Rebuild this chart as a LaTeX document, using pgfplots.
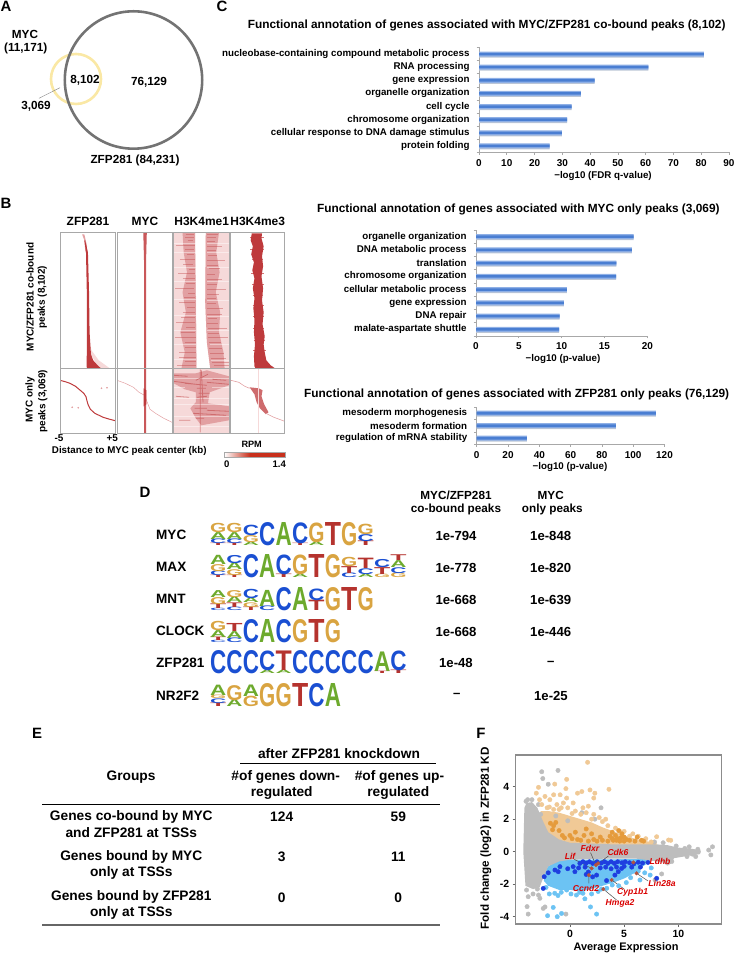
\documentclass[border=0pt]{standalone}
\usepackage{fontspec}
\usepackage{graphicx}
\usepackage{pgfplots}
\pgfplotsset{compat=1.18}
\setmainfont{Liberation Sans}
\definecolor{axgray}{HTML}{A8A8A8}
\definecolor{hm}{HTML}{BE3A3C}
\definecolor{hmline}{HTML}{C9585A}
\definecolor{hmmid}{HTML}{E2A0A2}
\definecolor{hmpale}{HTML}{F6D9D9}
\definecolor{colC}{HTML}{1A4FD2}
\definecolor{colG}{HTML}{D9A441}
\definecolor{colA}{HTML}{6DAA2D}
\definecolor{colT}{HTML}{B5332E}
\definecolor{ptgray}{HTML}{BDBDBD}
\definecolor{ptlor}{HTML}{F0C996}
\definecolor{ptor}{HTML}{E59B3C}
\definecolor{ptlbl}{HTML}{6CC3F3}
\definecolor{ptbl}{HTML}{1E3FE0}
\definecolor{ptred}{HTML}{B4533E}
\definecolor{bartop}{HTML}{8FB0E6}
\definecolor{barmid}{HTML}{4A7ED2}
\definecolor{barbot}{HTML}{BCC6D6}
\definecolor{rpmred}{HTML}{C8301C}
\definecolor{vennyel}{HTML}{FAE8A5}
\newcommand\fs[1]{\fontsize{#1}{#1}\selectfont\bfseries}
% one stacked column per entry, letters listed bottom to top
\newcommand\logo[2]{%
  \foreach \col [count=\i from 0] in {#2}{%
    \pgfmathsetmacro\xl{210+16.4*\i}%
    \pgfmathsetmacro\yy{954-#1}\xdef\yc{\yy}%
    \foreach \lt/\fr in \col {%
      \pgfmathsetmacro\hh{23*\fr}%
      \node[inner sep=0,outer sep=0,anchor=south west] at (\xl bp,\yc bp)
        {\resizebox{16.2bp}{\hh bp}{\raisebox{0pt}[\height][0pt]{\fs{20}\textcolor{col\lt}{\lt}}}};
      \pgfmathsetmacro\yn{\yc+\hh}\xdef\yc{\yn}%
    }%
  }%
}
% soft shadow, pale edge and darker core of each bar
\newcommand\gobars[1]{%
  \addplot[xbar,bar shift=-.7bp,bar width=5.5bp,draw=none,fill=barbot] coordinates {#1};
  \addplot[xbar,bar shift=0pt,bar width=5bp,draw=none,fill=bartop] coordinates {#1};
  \addplot[xbar,bar shift=0pt,bar width=2.6bp,draw=none,fill=barmid] coordinates {#1};
}
\pgfplotsset{
  gobar/.style={
    scale only axis, axis lines=left, axis line style={-,axgray,line width=.8pt},
    tick style={axgray,line width=.7pt}, tick align=outside, major tick length=2.5bp,
    ymin=.5, ymax=8.5, ytick={.5,1.5,...,8.5}, yticklabels={},
    extra y ticks={1,...,8}, extra y tick style={major tick length=0pt},
    yticklabel style={xshift=-6bp,font=\fs{9.8}},
    xticklabel style={font=\fs{10},yshift=-1bp},
    /pgf/number format/assume math mode=true, clip=false,
  },
  heat/.style={
    scale only axis, width=#1, height=201bp, xmin=-5, xmax=5, ymin=0, ymax=201,
    y dir=reverse, xtick=\empty, ytick=\empty, axis on top, unbounded coords=jump,
    axis line style={axgray,line width=.9pt},
  },
}
\begin{document}
\begin{tikzpicture}
\useasboundingbox (0,0) rectangle (734bp,954bp);

% C, co-bound peaks
\begin{axis}[gobar, at={(479bp,801.5bp)}, anchor=south west, width=250bp, height=105bp,
  xmin=0, xmax=90, xtick={0,10,...,90},
  extra y tick labels={protein folding,cellular response to DNA damage stimulus,chromosome organization,cell cycle,organelle organization,gene expression,RNA processing,nucleobase-containing compound metabolic process}]
\gobars{(25.4,1) (29.8,2) (31.7,3) (33.3,4) (36.7,5) (41.6,6) (61,7) (81,8)}
\end{axis}

% C, MYC only peaks
\begin{axis}[gobar, at={(476bp,618bp)}, anchor=south west, width=171.3bp, height=106bp,
  xmin=0, xmax=20, xtick={0,5,...,20},
  extra y tick labels={malate-aspartate shuttle,DNA repair,gene expression,cellular metabolic process,chromosome organization,translation,DNA metabolic process,organelle organization}]
\gobars{(9.7,1) (9.75,2) (10.25,3) (10.6,4) (16.35,5) (16.4,6) (18.2,7) (18.4,8)}
\end{axis}

% C, ZFP281 only peaks
\begin{axis}[gobar, at={(476.7bp,509.5bp)}, anchor=south west, width=187.8bp, height=37.5bp,
  xmin=0, xmax=120, xtick={0,20,...,120}, ymax=3.5, ytick={.5,1.5,2.5,3.5},
  extra y ticks={1,2,3},
  extra y tick labels={regulation of mRNA stability,mesoderm formation,mesoderm morphogenesis}]
\gobars{(32,1) (89,2) (114.5,3)}
\end{axis}

% B, ZFP281
\begin{axis}[heat=55.3bp, at={(60bp,520.7bp)}, anchor=south west]
\addplot[fill=hmpale,draw=none] coordinates {(.4,112)(.7,118)(2,128)(4,136)(2,136)(.6,122)};
\addplot[fill=hmmid,draw=none] coordinates {(-1,2)(-.6,8)(-.4,20)(-.1,14)(-.6,2)};
\addplot[fill=hm,draw=none] coordinates {(-.6,8)(-.3,20)(-.15,60)(-.15,100)(-.15,120)(-.2,134)(-.1,136)(2.4,136)(1.8,133)(1.0,128)(.6,122)(.35,100)(.25,60)(.05,20)(-.45,8)};
\addplot[hm,line width=1bp] coordinates {(-5,148)(-4,149.5)(-3.2,151)(-2.2,154)(-1.4,157.7)(-.7,161)(-.3,164.4)(-.1,169)(.1,172.7)(.5,177)(1.3,181)(2.8,185)(4,187)(5,188.4)};
\addplot[only marks,mark=*,mark size=.6bp,hmmid] coordinates {(2.5,156)(3.5,155.5)(-2.8,175)(-1.7,175.5)};
\end{axis}
% B, MYC
\begin{axis}[heat=55bp, at={(117bp,520.7bp)}, anchor=south west]
\addplot[hmmid,line width=.5bp] coordinates {(-5,148)(-3.5,151)(-2,155)(-1,160)(0,163)(.5,170)(1,177)(2,181)(3.5,186)(5,190)};
\addplot[fill=hmline,draw=none] coordinates {(-.22,0)(.42,0)(.28,30)(.28,136)(.3,201)(-.08,201)(-.08,136)(-.08,30)};
\addplot[fill=hm,draw=none] coordinates {(-.14,156)(.34,158)(.34,172)(-.14,174)};
\end{axis}
% B, H3K4me1
\begin{axis}[heat=55.3bp, at={(173.7bp,520.7bp)}, anchor=south west]
\addplot[fill=hmpale,draw=none] coordinates {(-5,0)(-1.15,0)(-.95,70)(-.85,136)(-5,136)};
\addplot[fill=hmpale,draw=none] coordinates {(.8,0)(.7,70)(1,110)(1.6,136)(5,136)(5,0)};
\addplot[fill=hmmid,draw=none] coordinates {(-3.4,0)(-1.15,0)(-1,70)(-.9,136)(-3.6,136)(-3,120)(-3.8,100)(-2.8,80)(-3.4,60)(-2.6,40)(-3.2,20)};
\addplot[fill=hmmid,draw=none] coordinates {(.8,0)(3.2,0)(2.7,20)(3.3,40)(2.6,60)(3.4,80)(3.2,100)(4,120)(4.2,136)(1.6,136)(1,110)(.7,70)};
\addplot[fill=hmpale,draw=none] coordinates {(-5,136)(5,136)(5,201)(-5,201)};
\addplot[fill=hmmid,draw=none] coordinates {(-5,141)(-3,141)(-1,141)(1,138)(5,144)(5,153)(1.5,160)(1.2,171)(5,174)(5,188)(2,191)(0,193)(-1,186)(-2,176)(-1,170)(-1,160)(-3,157)(-5,151)};
% streaks
\addplot[hm,line width=.6bp,opacity=.38,unbounded coords=jump] coordinates {
 (-2.8,2)(-1.3,2) (0,nan) (1,2)(3,2) (0,nan) (-3,5)(-1.4,5) (0,nan) (1,5)(2.7,5) (0,nan)
 (-2.5,8)(-1.5,8) (0,nan) (1,9)(2.4,9) (0,nan) (-4.5,13)(-1.2,13) (0,nan) (1,14)(3.8,14) (0,nan)
 (-2.9,17)(-1.3,17) (0,nan) (1.1,18)(2.6,18) (0,nan) (-2.6,22)(-1.4,22) (0,nan) (1.2,23)(2.8,23) (0,nan)
 (-3.9,27)(-1.2,27) (0,nan) (1,28)(4.3,28) (0,nan) (-3.3,32)(-1.5,32) (0,nan) (1,33)(3,33) (0,nan)
 (-2.2,37)(-1.1,37) (0,nan) (1.3,36)(3.4,36) (0,nan) (-4.2,41)(-1.1,41) (0,nan) (1,42)(2.4,42) (0,nan)
 (-3.4,46)(-1.2,46) (0,nan) (1,47)(3.8,47) (0,nan) (-2.8,51)(-1.2,51) (0,nan) (1,52)(2.8,52) (0,nan)
 (-4.7,56)(-1.4,56) (0,nan) (1.1,57)(4.5,57) (0,nan) (-2.4,61)(-1.1,61) (0,nan) (1.1,62)(3.2,62) (0,nan)
 (-3.1,65)(-1.2,65) (0,nan) (1,66)(2.7,66) (0,nan) (-4,70)(-1.2,70) (0,nan) (1,71)(2.6,71) (0,nan)
 (-2.6,75)(-1.2,75) (0,nan) (1,76)(4,76) (0,nan) (-3.4,80)(-1.2,80) (0,nan) (1.1,82)(3.8,82) (0,nan)
 (-3.6,85)(-1.1,85) (0,nan) (1.2,86)(2.9,86) (0,nan) (-4.6,90)(-1.1,90) (0,nan) (1,91)(3,91) (0,nan)
 (-2.8,95)(-1.1,95) (0,nan) (1.2,96)(4.6,96) (0,nan) (-3.7,100)(-1.1,100) (0,nan) (1.2,101)(3.2,101) (0,nan)
 (-4.8,105)(-1,105) (0,nan) (1.2,105)(4.8,105) (0,nan) (-3,110)(-1,110) (0,nan) (1.4,110)(3.6,110) (0,nan)
 (-3,115)(-1,115) (0,nan) (1.4,116)(3.8,116) (0,nan) (-4,120)(-1,120) (0,nan) (1.5,121)(4.1,121) (0,nan)
 (-4,125)(-1,125) (0,nan) (1.7,126)(4.4,126) (0,nan) (-3,129)(-.9,129) (0,nan) (2,130)(5,130) (0,nan)
 (-4.4,133)(-.9,133) (0,nan) (2.2,133)(5,133)};
\addplot[white,line width=.5bp,opacity=.45,unbounded coords=jump] coordinates {
 (-5,11)(-1,11) (0,nan) (1,11)(5,11) (0,nan) (-5,19.5)(-1,19.5) (0,nan) (1,20)(5,20) (0,nan)
 (-5,35)(-1,35) (0,nan) (1,35)(5,35) (0,nan) (-5,49)(-1,49) (0,nan) (1,49)(5,49) (0,nan)
 (-5,67)(-1,67) (0,nan) (1,68)(5,68) (0,nan) (-5,83)(-1,83) (0,nan) (1,84)(5,84) (0,nan)
 (-5,97.5)(-1,97.5) (0,nan) (1,98)(5,98) (0,nan) (-5,112)(-1,112) (0,nan) (1.5,112)(5,112) (0,nan)
 (-5,127)(-1,127) (0,nan) (1.8,127.5)(5,127.5) (0,nan) (-5,146)(5,146) (0,nan) (-5,155)(-3,155) (0,nan)
 (2,155)(5,155) (0,nan) (-5,166)(5,166) (0,nan) (-5,172)(5,172) (0,nan) (-5,184)(5,184) (0,nan) (-5,194)(5,194)};
\addplot[hm,line width=.8bp,opacity=.5,unbounded coords=jump] coordinates {
 (-5,143)(-2.5,144) (0,nan) (-5,149)(-1,152) (0,nan) (-3,151)(1,153) (0,nan) (-1,148)(1.2,142) (0,nan)
 (-.8,156)(.8,156) (0,nan) (2,147)(4.5,148) (0,nan) (1,150)(5,152) (0,nan) (-.5,161)(1.5,161) (0,nan)
 (-.8,165)(1,164) (0,nan) (-1.2,176)(1,176) (0,nan) (1,178)(5,179) (0,nan) (-1.5,181)(4.5,183) (0,nan)
 (-1,186)(.5,186) (0,nan) (-.2,137)(-.2,200) (0,nan) (0,138)(.3,170) (0,nan) (-4,188)(-2,188) (0,nan) (-4.6,164)(-2.2,165)};
\end{axis}
% B, H3K4me3
\begin{axis}[heat=54bp, at={(230.7bp,520.7bp)}, anchor=south west]
\addplot[fill=hm,draw=none] coordinates {(-1.1,1)(-1.3,8)(-.9,14)(-1.2,22)(-.7,30)(-1,38)(-.6,46)(-.9,56)(-.6,66)(-.8,76)(-.6,88)(-.7,100)(-.5,112)(-.7,124)(-.6,134)(-.4,136)(3.2,136)(2.4,133)(1.6,128)(1.3,120)(1.1,112)(1.3,104)(.9,92)(1.1,80)(.8,68)(1,56)(.7,44)(1,34)(.8,24)(1.1,14)(.7,6)(.8,1)};
\addplot[hm,line width=.3bp,opacity=.7,unbounded coords=jump] coordinates {
 (-1.45,5)(1.15,5) (0,nan) (-1.35,17)(1.25,17) (0,nan) (-1.1,27)(1,27) (0,nan) (-1.15,41)(1.1,41) (0,nan) (-1.05,52)(1.15,52) (0,nan)
 (-.95,63)(1,63) (0,nan) (-.95,73)(1.2,73) (0,nan) (-.85,84)(1.2,84) (0,nan) (-.9,96)(1.15,96) (0,nan) (-.75,108)(1.35,108) (0,nan) (-.85,118)(1.45,118)};
\addplot[hmmid,line width=.6bp] coordinates {(-5,148)(-3.5,150)(-2.4,154)(-1.5,156)};
\addplot[fill=hm,draw=none,opacity=.75] coordinates {(-1.5,155)(.2,156)(.9,158)(.7,164)(1.2,172)(2,180)(1.5,182)(.4,176)(-.2,170)(-.6,162)};
\addplot[hmmid,line width=.6bp] coordinates {(1.5,181)(3,185)(5,189)};
\addplot[hmpale,line width=.5bp] coordinates {(.1,136)(.1,201)};
\end{axis}

% F
\begin{axis}[scale only axis, at={(515.7bp,30bp)}, anchor=south west, width=206bp, height=169bp,
  xmin=-5, xmax=14, ymin=-4.45, ymax=5.95, xtick={0,5,10}, ytick={-4,-2,...,4},
  tick style={black!60,line width=.7pt}, tick align=outside, major tick length=3bp,
  axis line style={black!45,line width=1.1pt}, ticklabel style={font=\fs{10.5}},
  /pgf/number format/assume math mode=true,
  xtick pos=bottom, ytick pos=left]
\addplot[fill=ptlor,draw=none] coordinates {(-2.7,2.5)(-2,2.5)(-1,2.4)(0,2.2)(1,2)(2,1.8)(3,1.5)(4,1.25)(5,1)(6,.8)(7,.65)(8,.55)(8,.3)(-2.7,.3)};
\addplot[fill=ptlbl,draw=none] coordinates {(-2.3,-1.2)(-2,-.9)(-1,-.5)(7,-.45)(7.2,-.7)(6.5,-1)(6,-1.3)(5,-1.65)(4,-1.9)(3,-2.1)(2,-2.3)(1,-2.45)(0,-2.35)(-1,-2.35)(-2,-2.1)(-2.4,-1.8)};
\addplot[fill=ptgray,draw=none] coordinates {(-4.2,2.7)(-4,3.0)(-3.5,3.05)(-3,2.7)(-2.5,1.9)(-2,1.2)(-1,.75)(0,.55)(2,.5)(4,.45)(6,.45)(8,.45)(9,.4)(10,.25)(11,.2)(12,.1)(12,-.15)(10.5,-.3)(9.6,-.4)(9.3,-.75)(8,-.6)(7,-.5)(6,-.42)(4,-.42)(2,-.45)(0,-.5)(-1,-.6)(-2,-.9)(-2.4,-1.5)(-2.8,-2.2)(-3.4,-2.3)(-4.1,-2.1)(-4.3,0)};
% gray, sparse points
\addplot[only marks,mark=*,mark size=2.2bp,ptgray] coordinates {
 (-2.6,4.92)(-1.1,5)(-2.5,4.5)(-2,4.15)(2.87,2.7)(-3.9,3.2)(-3.5,3.2)(-4.05,3.1)(12.8,.1)(13.15,.3)(13,-.2)
 (11.85,0)(11.8,.15)(11.3,-.15)(10.6,.2)(10.2,-.15)(11,.3)(11.6,-.3)(10.8,-.3)(9.8,.35)(9.4,-.6)(9,-.7)
 (8.6,.55)(7.8,.6)(-4,-2.36)(-3.85,-2.77)(-3.95,-3.38)(-3.85,-3.84)(-3,-2.3)(-3.5,-2.1)
 (-2.46,-3.49)(-.37,-3.84)(-2.9,-2.67)(-2.77,-2.87)(8.46,-1.37)(7.85,-1.74)(-3.4,-2.6)(-2.3,-3.4)
 (1.1,2.4)(-1.3,2.2)(-.2,1.9)(2.3,2.0)(-2.9,2.9)(-2.7,2.3)};
% light orange, sparse points
\addplot[only marks,mark=*,mark size=2.2bp,ptlor] coordinates {
 (1.63,5.5)(-3.1,3.6)(-2.9,3.96)(-1.4,4.16)(-.3,4.45)(-.37,3.88)(-.3,3.3)(3.6,3.84)(1.85,3.8)(1.1,3.7)(.7,3.6)
 (2.3,3.6)(2.2,3.3)(-1.5,3.5)(-.9,3.5)(-2.3,3.4)(-2.8,3.2)(-1.85,3.2)(.3,3)(-1.2,2.9)(-.6,3)(-2.6,2.9)(-2.1,2.7)
 (1.2,2.7)(1.7,2.8)(-1.5,2.6)(-.8,2.7)(-.2,2.7)(.5,2.5)(1.5,2.4)(1,2.3)(2.2,2.3)(2.7,2.1)(-1.9,2.75)(-1,2.6)
 (.2,2.35)(3,1.85)(3.5,1.6)(4.2,1.45)(5,1.25)(5.8,1.1)(6.3,.95)(8,.92)(9.1,.72)(9.3,.7)(7,.8)(3.3,2)(2,2)(4.6,1.25)(5.5,.95)(6.8,.7)(7.5,.6)};
% orange
\addplot[only marks,mark=*,mark size=2.2bp,ptor] coordinates {
 (-1.8,1.75)(-1.5,1.6)(-1.6,1.35)(-1.3,1.8)(-.7,1)(-.5,.85)(-1,1.3)(0,1)(.2,.8)(.5,1.2)(.7,.75)(1,.7)(1.3,1)
 (1.5,1.4)(1.7,.65)(2,1.1)(2.2,.75)(2.5,.65)(2.8,.9)(3,.7)(3.5,.65)(3.7,.95)(3.9,1.2)(4,.7)(4.2,1)(4.4,.8)
 (4.5,1.3)(4.6,.65)(4.8,1.1)(5,.9)(5,.65)(5.2,.75)(5.5,.7)(6,.65)(6.2,.9)(6.6,.7)(6.8,.65)(3.9,.8)(4.3,.7)(4.7,.85)};
% light blue, sparse points
\addplot[only marks,mark=*,mark size=2.2bp,ptlbl] coordinates {
 (-2.06,-3.94)(-1.54,-3.43)(-1.17,-4)(-.77,-3.8)(1.9,-3.4)(2.46,-3.84)(1.38,-2.9)(-1.4,-2.56)(-.3,-2.36)
 (.6,-2.67)(1.2,-2.56)(-1.9,-2.6)(-1.1,-2.7)(.1,-2.6)(2,-2.6)(2.6,-2.45)(3.4,-2.25)(4.5,-2.1)
 (6.46,-1.74)(7.4,-1.44)(5.7,-1.23)(7.5,-1)(6.9,-1.3)(5.2,-1.9)(-2.2,-2.2)(-.8,-2.5)(.9,-2.5)(2.9,-2.3)(3.9,-2.05)(5.6,-1.6)(6.3,-1.2)};
% blue
\addplot[only marks,mark=*,mark size=2.2bp,ptbl] coordinates {
 (-2.46,-2.26)(-2.37,-1.54)(-2,-1.3)(-1.38,-1.13)(-.92,-.92)(-1.08,-1.23)(.3,-.92)(.46,-1.23)(.92,-.72)
 (1.2,-.62)(1.5,-.7)(1.8,-.62)(2.1,-.72)(2.5,-.62)(2.9,-.7)(3.2,-.62)(3.5,-.72)(3.8,-.62)(4.1,-.72)(4.4,-.62)
 (4.8,-.68)(5.1,-.62)(5.5,-.68)(5.9,-.75)(6.3,-.65)(6.7,-.7)(7.2,-.66)(1.4,-.95)(2.8,-1)(3.3,-.95)(3.8,-1.05)
 (4.3,-.95)(5,-.9)(6.5,-.95)(8,-1.64)(3.38,-1.78)(2.46,-1.44)(1.7,-1.25)(4.15,-1.44)(4.77,-1.03)(4.46,-1.23)
 (2.1,-1.55)(1.5,-1.4)(5.7,-.95)(.8,-1)(-.2,-1.05)};
% marked genes
\addplot[only marks,mark=*,mark size=1.8bp,ptred] coordinates {
 (2.4,-.82)(2,-1.03)(1.75,-1.44)(3.08,-2.3)(3.85,-1.74)(6.15,-1.33)(5.85,-.66)(2.6,-.72)};
\addplot[black!70,line width=.5bp,unbounded coords=jump] coordinates {
 (.4,-.47)(2,-1.03) (0,nan) (1.9,-.06)(2.4,-.82) (0,nan) (3.55,-.27)(2.4,-.82) (0,nan)
 (7.3,-.64)(5.85,-.66) (0,nan) (7.2,-1.8)(6.15,-1.33) (0,nan) (1.75,-1.95)(1.75,-1.44) (0,nan)
 (5,-2.3)(3.85,-1.74) (0,nan) (4.3,-2.97)(3.08,-2.3)};
\end{axis}

% D sequence logos, letters listed bottom to top
\logo{546}{{T/.1,C/.2,A/.3,G/.4},{T/.1,C/.2,A/.3,G/.4},{A/.15,G/.3,C/.45},{C/1},{A/1},{T/.1,C/.9},{A/.15,G/.85},{T/1},{G/1},{T/.2,C/.3,G/.45}}
\logo{578}{{T/.1,C/.2,G/.3,A/.4},{T/.1,G/.25,A/.3,C/.35},{C/1},{A/1},{T/.15,C/.85},{A/.15,G/.85},{T/1},{G/1},{C/.2,T/.3,G/.4},{A/.15,C/.25,T/.45},{G/.15,T/.3,C/.35},{G/.2,C/.25,A/.3,T/.25}}
\logo{611}{{C/.1,T/.2,G/.3,A/.3},{C/.15,T/.2,A/.25,G/.3},{T/.15,G/.2,A/.2,C/.4},{C/.2,A/.7},{C/1},{A/1},{T/.45,C/.5},{G/1},{T/1},{G/1}}
\logo{643}{{C/.1,T/.15,A/.3,G/.4},{C/.2,A/.3,T/.35},{C/1},{A/1},{C/1},{G/1},{T/1},{G/1}}
\logo{674}{{C/1},{C/1},{C/1},{A/.15,C/.85},{A/.15,T/.85},{C/1},{C/1},{C/1},{C/1},{C/1},{T/.1,A/.85},{T/.15,C/.85}}
\logo{707}{{T/.15,C/.2,G/.15,A/.45},{A/.3,G/.65},{G/.45,A/.5},{G/1},{G/1},{T/1},{C/1},{A/1}}

% all text, the venn diagram and the table, in reference pixels
\begin{scope}[x=1bp,y=-1bp,yshift=954bp]
\draw[vennyel,line width=2.6bp] (76,79) circle [radius=25];
\draw[black!55,line width=2.6bp] (133.5,80) circle [radius=68.7];
\draw[black!50,line width=.4bp] (39,98.3) -- (60,87.7);
\foreach \t/\x/\y in {A/6/6,C/222/6,B/6/203,D/145/492,E/37/733,F/481/733}
  \node[font=\fs{15}] at (\x,\y) {\t};
\foreach \t/\x/\y in {MYC/25/34,{(11,171)}/25.7/48.7,{8,102}/85/80.3,{76,129}/149/82.7,{3,069}/36/106,{ZFP281 (84,231)}/135/160.7}
  \node[font=\fs{11.8}] at (\x,\y) {\t};
\node[font=\fs{11.9}] at (486.7,25.3) {Functional annotation of genes associated with MYC/ZFP281 co-bound peaks (8,102)};
\node[font=\fs{11.9}] at (518.3,209.7) {Functional annotation of genes associated with MYC only peaks (3,069)};
\node[font=\fs{11.9}] at (516.7,394) {Functional annotation of genes associated with ZFP281 only peaks (76,129)};
\node[font=\fs{9.8}] at (603,176) {−log10 (FDR q-value)};
\node[font=\fs{9.8}] at (563,359) {−log10 (p-value)};
\node[font=\fs{9.8}] at (570,467) {−log10 (p-value)};
% B labels
\foreach \t/\x in {ZFP281/88,MYC/145,H3K4me1/201.7,H3K4me3/257.7}
  \node[font=\fs{12}] at (\x,221.7) {\t};
\draw[axgray,line width=.9bp] (60,368.3) -- (285,368.3);
\node[font=\fs{10},rotate=90] at (30,297) {MYC/ZFP281 co-bound};
\node[font=\fs{10},rotate=90] at (42.3,297) {peaks (8,102)};
\node[font=\fs{10},rotate=90] at (30,400) {MYC only};
\node[font=\fs{10},rotate=90] at (42.7,401) {peaks (3,069)};
\node[font=\fs{10}] at (59,438.3) {-5};
\node[font=\fs{10}] at (112.3,438.3) {+5};
\node[font=\fs{9.8}] at (129.3,450.7) {Distance to MYC peak center (kb)};
\node[font=\fs{9.2}] at (251.7,444.3) {RPM};
\shade[left color=white,right color=rpmred] (224.3,452.7) rectangle (250,457.7);
\fill[rpmred] (250,452.7) rectangle (285.7,457.7);
\draw[axgray,line width=.5bp] (224.3,452.7) rectangle (285.7,457.7);
\node[font=\fs{9.6}] at (226.7,464) {0};
\node[font=\fs{9.6}] at (279.3,464) {1.4};
% D text
\node[font=\fs{11.8}] at (456,495) {MYC/ZFP281};
\node[font=\fs{11.8}] at (456,509.3) {co-bound peaks};
\node[font=\fs{11.8}] at (550.7,495) {MYC};
\node[font=\fs{11.8}] at (552.3,509.3) {only peaks};
\foreach \t/\y in {MYC/535,MAX/566.7,MNT/599,CLOCK/630.7,ZFP281/662.7,NR2F2/695.3}
  \node[font=\fs{13.6},anchor=west,inner sep=0pt] at (156,\y) {\t};
\foreach \t/\x/\y in {1e-794/456/535.7,1e-848/550.7/535.7,1e-778/456/567.7,1e-820/550.7/567.7,
  1e-668/456/599.7,1e-639/550.7/599.7,1e-668/456/631.7,1e-446/550.7/631.7,1e-48/456/663,–/550.7/663,–/456.7/695,1e-25/551/695.7}
  \node[font=\fs{13.2}] at (\x,\y) {\t};
% E table
\draw[black,line width=.9bp] (240,763.5) -- (436,763.5);
\draw[black,line width=.9bp] (42,804.3) -- (440,804.3);
\draw[black!60,line width=1.3bp] (42,925) -- (440,925);
\foreach \t/\x/\y in {after ZFP281 knockdown/339/753.3,Groups/131/776.7,\#of genes down-/285.7/776.7,regulated/281.7/793.3,
  \#of genes up-/399.5/776.7,regulated/398.3/793.3,Genes co-bound by MYC/131.3/816.7,and ZFP281 at TSSs/131.3/833,
  124/281.7/816.7,59/398.3/816.7,Genes bound by MYC/131.3/856.7,only at TSSs/131.3/873.3,3/281.7/856.7,11/398.3/856.7,
  Genes bound by ZFP281/131.3/897.3,only at TSSs/131.3/913.3,0/281.7/897.3,0/398.3/897.3}
  \node[font=\fs{13.8}] at (\x,\y) {\t};
% F labels
\node[font=\fs{11.7},rotate=90] at (486,838.3) {Fold change (log2) in ZFP281 KD};
\node[font=\fs{11}] at (626,948) {Average Expression};
\foreach \t/\x/\y in {Fdxr/590/848.3,Cdk6/618/852.3,Lif/570/856.7,Ldhb/660/861.7,Lin28a/662/883.3,Ccnd2/586/888.7,Cyp1b1/632.7/892.3,Hmga2/620/903.3}
  \node[font=\fs{8.6}\itshape,text=red!85!black] at (\x,\y) {\t};
\end{scope}
\end{tikzpicture}
\end{document}
